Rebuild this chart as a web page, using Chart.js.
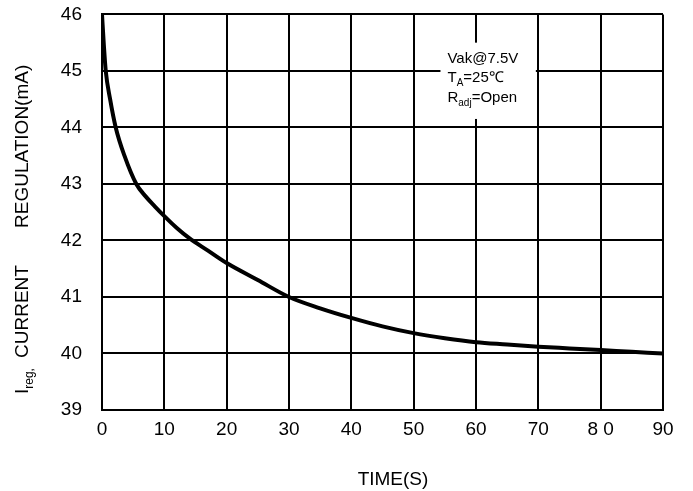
<!DOCTYPE html>
<html>
<head>
<meta charset="utf-8">
<script src="https://cdn.jsdelivr.net/npm/chart.js@4"></script>
<style>
  html, body { margin: 0; padding: 0; background: #fff; overflow: hidden; }
  /* canvas is pulled up so the plot top lands where the reference has it */
  #wrap { width: 693px; height: 508px; margin-top: -17px; }
</style>
</head>
<body>
<div id="wrap"><canvas id="chart"></canvas></div>
<script>
// time (s) and regulated current (mA)
const timeS = [0, 0.3, 0.6, 1.3, 2.2, 3.6, 5.5, 7, 8.5, 10, 12, 14, 17, 20, 25, 30, 35, 40, 45, 50, 55, 60, 65, 70, 75, 80, 85, 90];
const currentMA = [46, 45.45, 45, 44.5, 44, 43.5, 43, 42.78, 42.6, 42.43, 42.22, 42.04, 41.82, 41.6, 41.3, 41.0, 40.8, 40.63, 40.48, 40.36, 40.27, 40.2, 40.16, 40.12, 40.09, 40.06, 40.03, 40.0];
const xTickLabels = {0: '0', 10: '10', 20: '20', 30: '30', 40: '40', 50: '50', 60: '60', 70: '70', 80: '8 0', 90: '90'};
const noteLines = [['Vak@7.5V', '', ''], ['T', 'A', '=25\u2103'], ['R', 'adj', '=Open']];

const FONT = 'Arial, "Liberation Sans", sans-serif';

// draws the axis titles and the condition box
const textPlugin = {
  id: 'texts',
  afterDraw(chart) {
    const ctx = chart.ctx;
    const xs = chart.scales.x, ys = chart.scales.y;
    const area = chart.chartArea;
    ctx.save();
    ctx.fillStyle = '#000';
    ctx.textBaseline = 'alphabetic';

    // condition box
    const bx1 = xs.getPixelForValue(54.3), bx2 = xs.getPixelForValue(69.6);
    const by1 = ys.getPixelForValue(45.5), by2 = ys.getPixelForValue(44.15);
    ctx.fillStyle = '#fff';
    ctx.fillRect(bx1, by1, bx2 - bx1, by2 - by1);
    ctx.fillStyle = '#000';
    let y = by1 + 20;
    noteLines.forEach(l => {
      let x = bx1 + 7;
      ctx.font = '15px ' + FONT;
      ctx.textAlign = 'left';
      ctx.fillText(l[0], x, y);
      x += ctx.measureText(l[0]).width;
      if (l[1]) {
        ctx.font = '10px ' + FONT;
        ctx.fillText(l[1], x, y + 4);
        x += ctx.measureText(l[1]).width;
      }
      ctx.font = '15px ' + FONT;
      ctx.fillText(l[2], x, y);
      y += 19.5;
    });

    // x title
    ctx.font = '19px ' + FONT;
    ctx.textAlign = 'center';
    ctx.fillText('TIME(S)', 393, area.bottom + 75);

    // y title, rotated
    ctx.translate(28, area.bottom - 16);
    ctx.rotate(-Math.PI / 2);
    ctx.textAlign = 'left';
    ctx.font = '19px ' + FONT;
    ctx.fillText('I', 0, 0);
    let p = ctx.measureText('I').width;
    ctx.font = '12px ' + FONT;
    ctx.fillText('reg,', p, 5);
    ctx.font = '19px ' + FONT;
    ctx.fillText('CURRENT', 36, 0);
    ctx.fillText('REGULATION(mA)', 166, 0);
    ctx.restore();
  }
};

new Chart(document.getElementById('chart'), {
  type: 'scatter',
  data: {
    datasets: [{
      data: timeS.map((t, i) => ({x: t, y: currentMA[i]})),
      showLine: true,
      borderColor: '#000',
      borderWidth: 4,
      pointRadius: 0,
      cubicInterpolationMode: 'monotone',
      fill: false
    }]
  },
  options: {
    responsive: true,
    maintainAspectRatio: false,
    animation: false,
    layout: { padding: { top: 14, right: 30, left: 0, bottom: 0 } },
    plugins: { legend: { display: false }, tooltip: { enabled: false } },
    scales: {
      x: {
        type: 'linear', min: 0, max: 90,
        afterFit: s => { s.height = 81; },
        grid: { color: '#000', lineWidth: 2, drawTicks: false },
        border: { color: '#000', width: 2 },
        ticks: {
          stepSize: 10, padding: 8, color: '#000',
          font: { family: FONT, size: 19 },
          callback: v => xTickLabels[v] ?? v
        }
      },
      y: {
        type: 'linear', min: 39, max: 46,
        afterFit: s => { s.width = 102; },
        grid: { color: '#000', lineWidth: 2, drawTicks: false },
        border: { color: '#000', width: 2 },
        ticks: {
          stepSize: 1, padding: 20, color: '#000',
          font: { family: FONT, size: 19 }
        }
      }
    }
  },
  plugins: [textPlugin]
});
</script>
</body>
</html>
